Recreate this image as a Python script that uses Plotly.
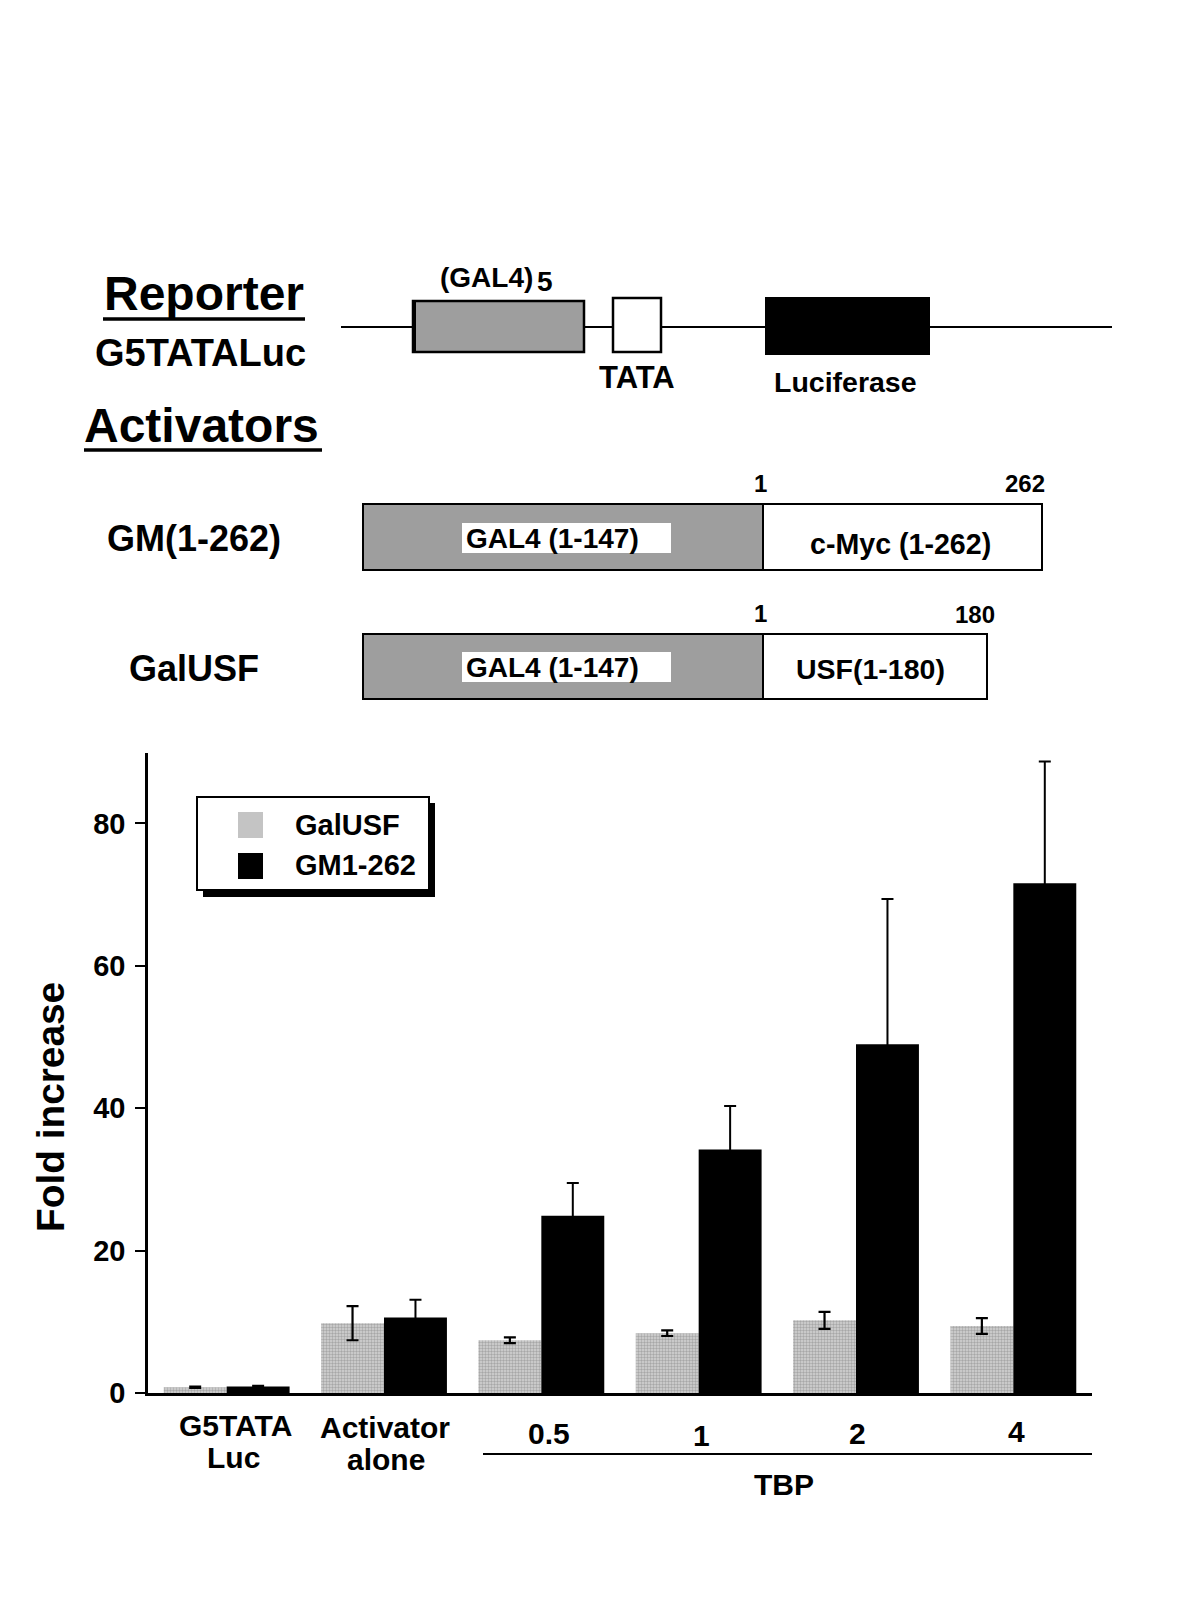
import plotly.graph_objects as go

# ---------------- data ----------------
categories = ["G5TATA<br>Luc", "Activator<br>alone", "0.5", "1", "2", "4"]
series_names = ["GalUSF", "GM1-262"]
galusf = [0.8, 9.8, 7.4, 8.4, 10.2, 9.4]
galusf_err = [0.1, 2.4, 0.4, 0.4, 1.2, 1.1]
gm = [0.9, 10.6, 24.9, 34.2, 49.0, 71.6]
gm_err = [0.1, 2.5, 4.6, 6.1, 20.4, 17.1]
y_ticks = [0, 20, 40, 60, 80]

W, H = 1200, 1600
FONT = "Liberation Sans, Arial, sans-serif"
GRAY_BAR = dict(shape=".", fgcolor="#7c7c7c", bgcolor="#d3d3d3", size=3, solidity=0.5)


# layout helpers: target pixel position on the page -> paper coordinates
def X(t):
    return (t - 8) / W


def Y(t):
    return 1 - (t * 1.01 - 8) / H


fig = go.Figure()

fig.add_trace(go.Bar(
    name=series_names[0], x=categories, y=galusf, showlegend=False,
    marker=dict(color="#c4c4c4", line=dict(width=0), pattern=GRAY_BAR),
    error_y=dict(type="data", array=galusf_err, visible=True,
                 color="black", thickness=2.2, width=6),
))
fig.add_trace(go.Bar(
    name=series_names[1], x=categories, y=gm, showlegend=False,
    marker=dict(color="black", line=dict(width=0)),
    error_y=dict(type="data", array=gm_err, visible=True,
                 color="black", thickness=2, width=6),
))

shapes = []
ann = []


def rect(x0, y0, x1, y1, fill, lw=2, lc="black"):
    shapes.append(dict(type="rect", xref="paper", yref="paper",
                       x0=X(x0), x1=X(x1), y0=Y(y0), y1=Y(y1),
                       fillcolor=fill, line=dict(color=lc, width=lw), layer="above"))


def line(x0, y0, x1, y1, lw=2):
    shapes.append(dict(type="line", xref="paper", yref="paper",
                       x0=X(x0), x1=X(x1), y0=Y(y0), y1=Y(y1),
                       line=dict(color="black", width=lw)))


def text(t, x, y, size, xanchor="center", angle=0):
    ann.append(dict(text="<b>%s</b>" % t, x=X(x), y=Y(y), xref="paper", yref="paper",
                    showarrow=False, xanchor=xanchor, yanchor="middle", textangle=angle,
                    font=dict(family=FONT, size=size, color="black")))


# ---------- reporter diagram ----------
text("Reporter", 204, 293, 48)
line(103, 319, 305, 319, lw=3.5)
text("G5TATALuc", 200, 353, 38)

line(341, 327, 1112, 327, lw=2)
rect(413, 301, 584, 352, "#9e9e9e", lw=2.5)
line(414, 301, 414, 352, lw=4)
text("(GAL4)", 486, 277, 28)
text("5", 545, 281, 28)
rect(613, 298, 661, 352, "white", lw=2.5)
text("TATA", 637, 377, 31)
rect(766, 298, 929, 354, "black", lw=2)
text("Luciferase", 845, 382, 28.5)

# ---------- activators ----------
text("Activators", 202, 425, 48)
line(84, 450, 322, 450, lw=3.5)

text("GM(1-262)", 194, 538, 36)
rect(363, 504, 763, 570, "#9e9e9e", lw=2)
rect(763, 504, 1042, 570, "white", lw=2)
rect(462, 523, 671, 553, "white", lw=0)
text("GAL4 (1-147)", 464, 538, 28, xanchor="left")
text("c-Myc (1-262)", 900, 544, 28.6)
text("1", 760, 483, 24)
text("262", 1025, 483, 24)

text("GalUSF", 194, 668, 36)
rect(363, 634, 763, 699, "#9e9e9e", lw=2)
rect(763, 634, 987, 699, "white", lw=2)
rect(462, 652, 671, 682, "white", lw=0)
text("GAL4 (1-147)", 464, 667, 28, xanchor="left")
text("USF(1-180)", 870, 669, 28.5)
text("1", 760, 613, 24)
text("180", 975, 614, 24)

# ---------- chart extras ----------
text("Fold increase", 51, 1107, 38.8, angle=-90)
line(483, 1454, 1092, 1454, lw=2)
text("TBP", 784, 1485, 30)

# manual legend with drop shadow
rect(203, 803, 435, 897, "black", lw=0)
rect(197, 797, 429, 890, "white", lw=2)
rect(238, 812, 263, 838, "#c4c4c4", lw=0)
rect(238, 853, 263, 879, "black", lw=0)
text(series_names[0], 293, 825, 29, xanchor="left")
text(series_names[1], 293, 865, 29, xanchor="left")

# category labels under the bars (placed through the x axis scale, by category index)
label_line_y = [[1426, 1458], [1428, 1460], [1434], [1436], [1434], [1432]]
label_xshift = [[9, 7], [1, 2], [8], [3], [1], [3]]
for i, cat in enumerate(categories):
    for j, part in enumerate(cat.split("<br>")):
        ann.append(dict(text="<b>%s</b>" % part, x=i, xref="x",
                        y=Y(label_line_y[i][j]), yref="paper",
                        xshift=label_xshift[i][j], showarrow=False,
                        xanchor="center", yanchor="middle",
                        font=dict(family=FONT, size=30, color="black")))

fig.update_layout(
    width=W, height=H,
    margin=dict(l=0, r=0, t=0, b=0),
    paper_bgcolor="white", plot_bgcolor="white",
    barmode="group", bargap=0.2, bargroupgap=0.0,
    shapes=shapes, annotations=ann,
    font=dict(family=FONT, color="black"),
    showlegend=False,
    xaxis=dict(domain=[X(148), X(1092)], range=[-0.5, 5.5], type="category",
               showline=True, linecolor="black", linewidth=2.5,
               showticklabels=False, ticks="",
               showgrid=False, zeroline=False),
    yaxis=dict(domain=[Y(1393), Y(753)], range=[0, 89.9],
               tickvals=y_ticks, ticktext=["<b>%d</b>" % v for v in y_ticks],
               showline=True, linecolor="black", linewidth=2.5,
               ticks="outside", ticklen=10, tickwidth=2, tickcolor="black",
               ticklabelstandoff=4,
               tickfont=dict(family=FONT, size=29, color="black"),
               showgrid=False, zeroline=False),
)

fig.write_html("out.html")
